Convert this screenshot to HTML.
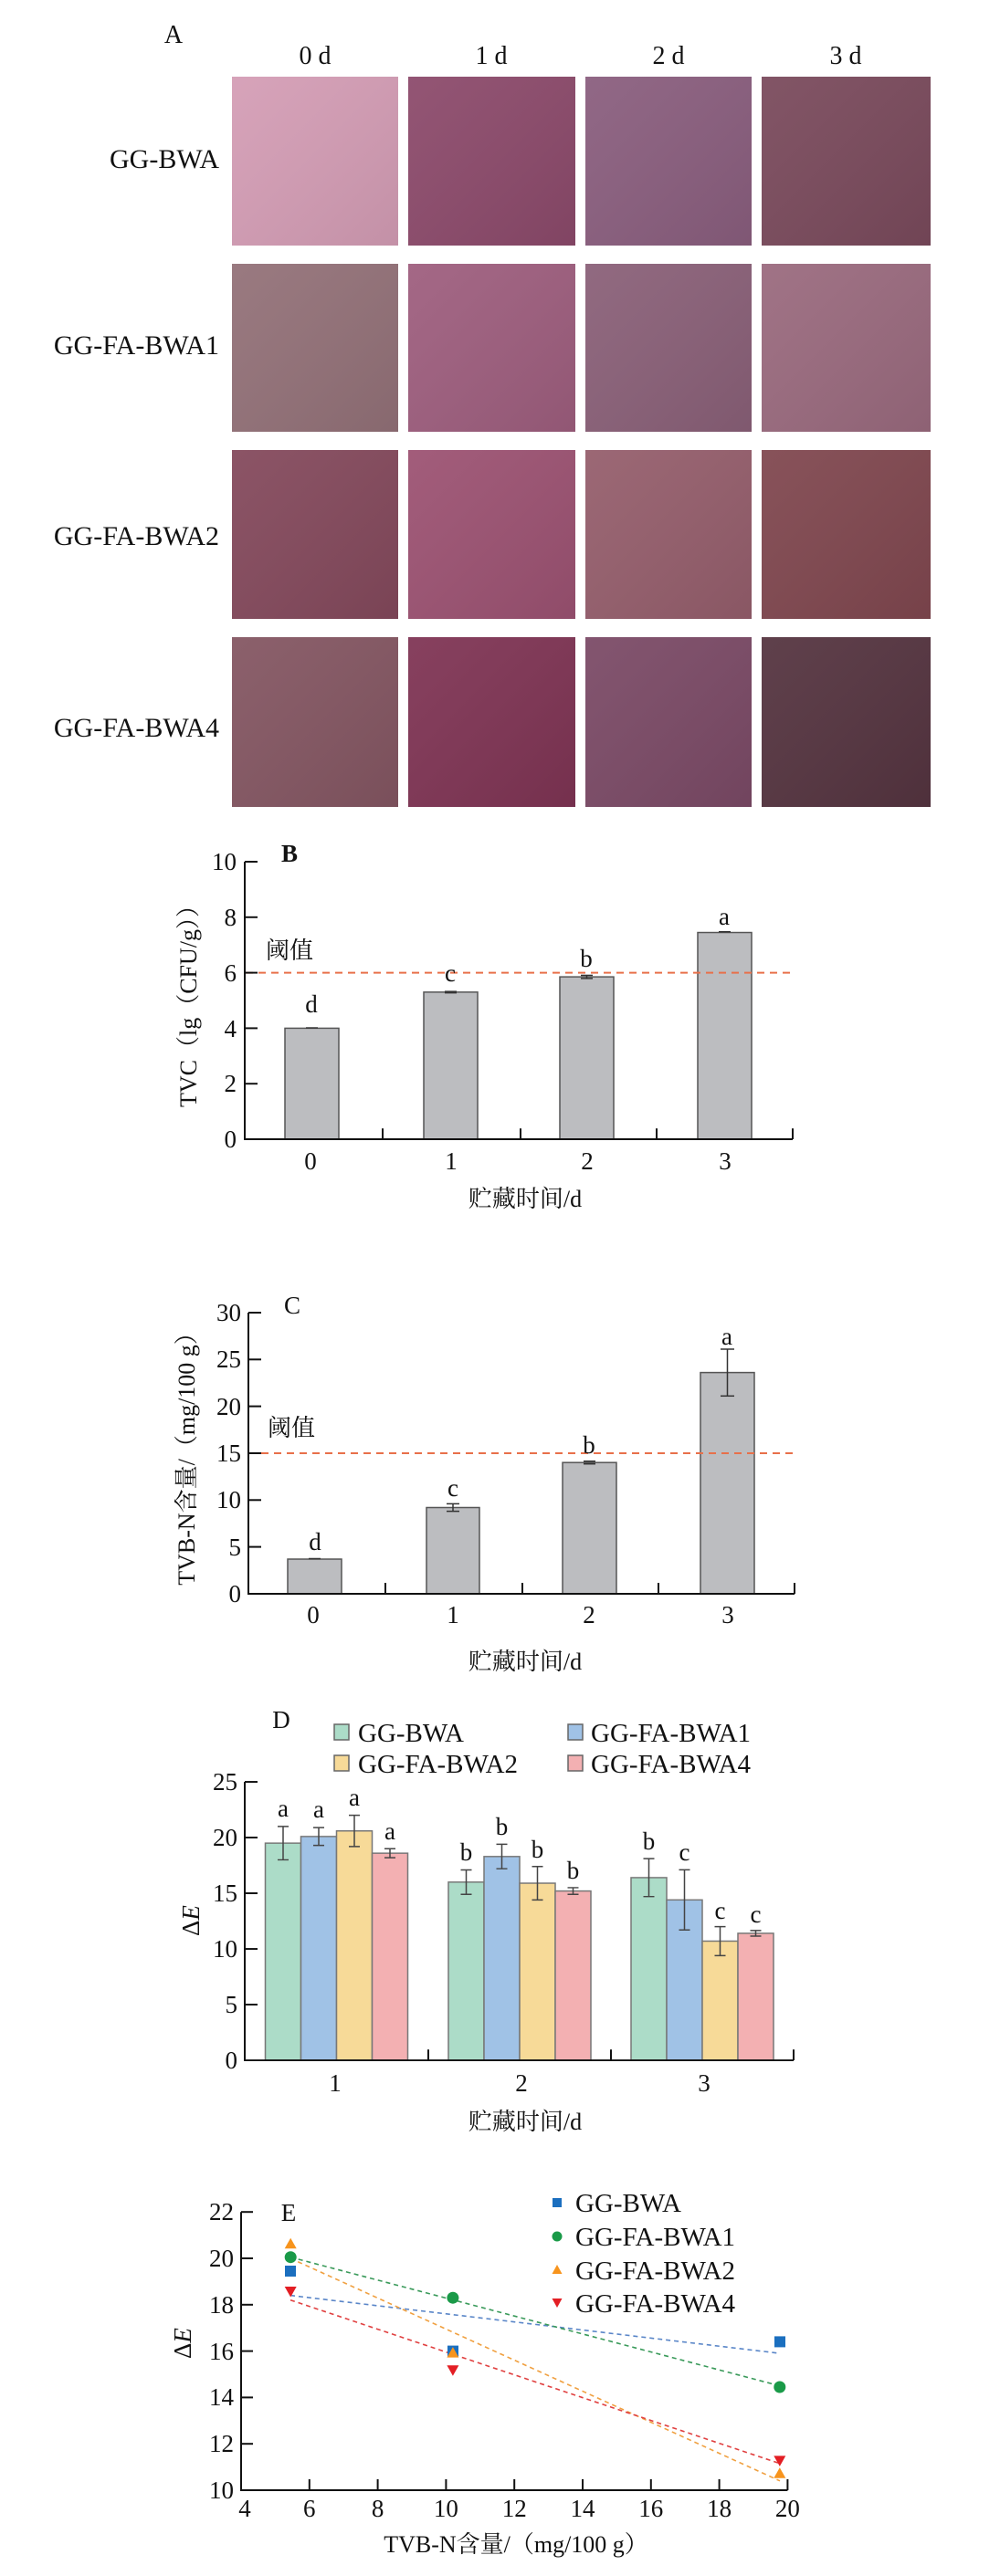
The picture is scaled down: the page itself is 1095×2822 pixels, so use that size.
<!DOCTYPE html>
<html><head><meta charset="utf-8"><style>
html,body{margin:0;padding:0;background:#fff;}
svg{display:block;}
text{font-family:"Liberation Serif","Noto Serif CJK SC",serif;fill:#111;}
</style></head><body>
<svg width="1095" height="2822" viewBox="0 0 1095 2822" xmlns="http://www.w3.org/2000/svg">
<defs>
<linearGradient id="sh" x1="0" y1="0" x2="1" y2="1"><stop offset="0" stop-color="#fff" stop-opacity="0.06"/><stop offset="1" stop-color="#000" stop-opacity="0.08"/></linearGradient>
</defs>
<!-- Panel A -->
<text x="190" y="47" font-size="28" text-anchor="middle">A</text>
<g font-size="28" text-anchor="middle">
<text x="345" y="70">0 d</text><text x="538" y="70">1 d</text><text x="732" y="70">2 d</text><text x="926" y="70">3 d</text>
</g>
<g font-size="30" text-anchor="end">
<text x="240" y="184">GG-BWA</text>
<text x="240" y="388">GG-FA-BWA1</text>
<text x="240" y="597">GG-FA-BWA2</text>
<text x="240" y="807">GG-FA-BWA4</text>
</g>
<g>
<rect x="254" y="84" width="182" height="185" fill="#d49db5"/>
<rect x="447" y="84" width="183" height="185" fill="#8c4a6b"/>
<rect x="641" y="84" width="182" height="185" fill="#8a5e7e"/>
<rect x="834" y="84" width="185" height="185" fill="#7a4a5c"/>
<rect x="254" y="289" width="182" height="184" fill="#937178"/>
<rect x="447" y="289" width="183" height="184" fill="#9e5e7e"/>
<rect x="641" y="289" width="182" height="184" fill="#8a6078"/>
<rect x="834" y="289" width="185" height="184" fill="#9a6a7e"/>
<rect x="254" y="493" width="182" height="185" fill="#84495c"/>
<rect x="447" y="493" width="183" height="185" fill="#9c5272"/>
<rect x="641" y="493" width="182" height="185" fill="#955e6c"/>
<rect x="834" y="493" width="185" height="185" fill="#80474f"/>
<rect x="254" y="698" width="182" height="186" fill="#845662"/>
<rect x="447" y="698" width="183" height="186" fill="#7f3454"/>
<rect x="641" y="698" width="182" height="186" fill="#7b4a66"/>
<rect x="834" y="698" width="185" height="186" fill="#553440"/>
</g>
<g fill="url(#sh)">
<rect x="254" y="84" width="182" height="185"/><rect x="447" y="84" width="183" height="185"/><rect x="641" y="84" width="182" height="185"/><rect x="834" y="84" width="185" height="185"/>
<rect x="254" y="289" width="182" height="184"/><rect x="447" y="289" width="183" height="184"/><rect x="641" y="289" width="182" height="184"/><rect x="834" y="289" width="185" height="184"/>
<rect x="254" y="493" width="182" height="185"/><rect x="447" y="493" width="183" height="185"/><rect x="641" y="493" width="182" height="185"/><rect x="834" y="493" width="185" height="185"/>
<rect x="254" y="698" width="182" height="186"/><rect x="447" y="698" width="183" height="186"/><rect x="641" y="698" width="182" height="186"/><rect x="834" y="698" width="185" height="186"/>
</g>

<!-- Panel B -->
<g transform="matrix(1,0,0,0.9838,0,15.3)">
<g fill="#bcbdc0" stroke="#555" stroke-width="1.5">
<rect x="312" y="1129.4" width="59" height="123.6"/>
<rect x="464" y="1089.2" width="59" height="163.8"/>
<rect x="613" y="1072.2" width="59" height="180.8"/>
<rect x="764" y="1022.8" width="59" height="230.2"/>
</g>
<g stroke="#333" stroke-width="1.5">
<line x1="335" y1="1129" x2="348" y2="1129"/>
<line x1="487" y1="1088.5" x2="500" y2="1088.5"/><line x1="487" y1="1090" x2="500" y2="1090"/>
<line x1="636" y1="1070.5" x2="649" y2="1070.5"/><line x1="636" y1="1074" x2="649" y2="1074"/><line x1="642.5" y1="1070.5" x2="642.5" y2="1074"/>
<line x1="787" y1="1022" x2="800" y2="1022"/>
</g>
<line x1="269" y1="1067.6" x2="868" y2="1067.6" stroke="#e8704a" stroke-width="2" stroke-dasharray="8,6"/>
<g stroke="#111" stroke-width="2" fill="none">
<polyline points="268,944 268,1253 868,1253"/>
<line x1="268" y1="944" x2="282" y2="944"/><line x1="268" y1="1005.8" x2="282" y2="1005.8"/><line x1="268" y1="1067.6" x2="282" y2="1067.6"/><line x1="268" y1="1129.4" x2="282" y2="1129.4"/><line x1="268" y1="1191.2" x2="282" y2="1191.2"/>
<line x1="419" y1="1253" x2="419" y2="1241"/><line x1="570" y1="1253" x2="570" y2="1241"/><line x1="719" y1="1253" x2="719" y2="1241"/><line x1="868" y1="1253" x2="868" y2="1241"/>
</g>
</g>
<g font-size="27" text-anchor="end">
<text x="259" y="953">10</text><text x="259" y="1014">8</text><text x="259" y="1075">6</text><text x="259" y="1136">4</text><text x="259" y="1196">2</text><text x="259" y="1257">0</text>
</g>
<g font-size="27" text-anchor="middle">
<text x="340" y="1281">0</text><text x="494" y="1281">1</text><text x="643" y="1281">2</text><text x="794" y="1281">3</text>
<text x="341" y="1109">d</text><text x="493" y="1075">c</text><text x="642" y="1059">b</text><text x="793" y="1013">a</text>
</g>
<text x="317" y="944" font-size="27" font-weight="bold" text-anchor="middle">B</text>
<text x="291" y="1050" font-size="26">阈值</text>
<text x="575" y="1322" font-size="26" text-anchor="middle">贮藏时间/d</text>
<text transform="translate(215,1096) rotate(-90)" font-size="26" text-anchor="middle">TVC（lg（CFU/g））</text>

<!-- Panel C -->
<g fill="#bcbdc0" stroke="#555" stroke-width="1.5">
<rect x="315" y="1708" width="59" height="38"/>
<rect x="467" y="1651.5" width="58" height="94.5"/>
<rect x="616" y="1602.2" width="59" height="143.8"/>
<rect x="767" y="1503.6" width="59" height="242.4"/>
</g>
<g stroke="#333" stroke-width="1.5">
<line x1="338" y1="1707.5" x2="351" y2="1707.5"/>
<line x1="496" y1="1647.4" x2="496" y2="1655.6"/><line x1="489" y1="1647.4" x2="503" y2="1647.4"/><line x1="489" y1="1655.6" x2="503" y2="1655.6"/>
<line x1="639" y1="1600.7" x2="652" y2="1600.7"/><line x1="639" y1="1603.7" x2="652" y2="1603.7"/>
<line x1="796.5" y1="1478" x2="796.5" y2="1529.3"/><line x1="789" y1="1478" x2="804" y2="1478"/><line x1="789" y1="1529.3" x2="804" y2="1529.3"/>
</g>
<line x1="272" y1="1592" x2="870" y2="1592" stroke="#e8704a" stroke-width="2" stroke-dasharray="8,6"/>
<g stroke="#111" stroke-width="2" fill="none">
<polyline points="272,1438 272,1746 870,1746"/>
<line x1="272" y1="1438" x2="286" y2="1438"/><line x1="272" y1="1489.3" x2="286" y2="1489.3"/><line x1="272" y1="1540.6" x2="286" y2="1540.6"/><line x1="272" y1="1592" x2="286" y2="1592"/><line x1="272" y1="1643.3" x2="286" y2="1643.3"/><line x1="272" y1="1694.6" x2="286" y2="1694.6"/>
<line x1="422" y1="1746" x2="422" y2="1734"/><line x1="572" y1="1746" x2="572" y2="1734"/><line x1="721" y1="1746" x2="721" y2="1734"/><line x1="870" y1="1746" x2="870" y2="1734"/>
</g>
<g font-size="27" text-anchor="end">
<text x="264" y="1447">30</text><text x="264" y="1498">25</text><text x="264" y="1550">20</text><text x="264" y="1601">15</text><text x="264" y="1652">10</text><text x="264" y="1704">5</text><text x="264" y="1755">0</text>
</g>
<g font-size="27" text-anchor="middle">
<text x="343" y="1778">0</text><text x="496" y="1778">1</text><text x="645" y="1778">2</text><text x="797" y="1778">3</text>
<text x="345" y="1698">d</text><text x="496" y="1639">c</text><text x="645" y="1592">b</text><text x="796" y="1473">a</text>
</g>
<text x="320" y="1439" font-size="27" text-anchor="middle">C</text>
<text x="293" y="1573" font-size="26">阈值</text>
<text x="575" y="1829" font-size="26" text-anchor="middle">贮藏时间/d</text>
<text transform="translate(213,1592) rotate(-90)" font-size="26" text-anchor="middle">TVB-N含量/（mg/100 g）</text>

<!-- Panel D -->
<text x="308" y="1893" font-size="27" text-anchor="middle">D</text>
<g stroke="#666" stroke-width="1.5">
<rect x="366" y="1889" width="16" height="17" fill="#acdcc8"/>
<rect x="622" y="1889" width="16" height="17" fill="#a0c2e6"/>
<rect x="366" y="1923" width="16" height="17" fill="#f7da98"/>
<rect x="622" y="1923" width="16" height="17" fill="#f3b0b2"/>
</g>
<g font-size="29">
<text x="392" y="1908">GG-BWA</text><text x="647" y="1908">GG-FA-BWA1</text>
<text x="392" y="1942">GG-FA-BWA2</text><text x="647" y="1942">GG-FA-BWA4</text>
</g>
<g transform="matrix(1,0,0,0.9839,0,29.5)">
<g stroke="#777" stroke-width="1.5">
<rect x="290.5" y="2022.2" width="39" height="241.8" fill="#acdcc8"/>
<rect x="329.5" y="2014.8" width="39" height="249.2" fill="#a0c2e6"/>
<rect x="368.5" y="2008.6" width="39" height="255.4" fill="#f7da98"/>
<rect x="407.5" y="2033.4" width="39" height="230.6" fill="#f3b0b2"/>
<rect x="491" y="2065.6" width="39" height="198.4" fill="#acdcc8"/>
<rect x="530" y="2037.1" width="39" height="226.9" fill="#a0c2e6"/>
<rect x="569" y="2066.8" width="39" height="197.2" fill="#f7da98"/>
<rect x="608" y="2075.5" width="39" height="188.5" fill="#f3b0b2"/>
<rect x="691" y="2060.6" width="39" height="203.4" fill="#acdcc8"/>
<rect x="730" y="2085.4" width="39" height="178.6" fill="#a0c2e6"/>
<rect x="769" y="2131.3" width="39" height="132.7" fill="#f7da98"/>
<rect x="808" y="2122.6" width="39" height="141.4" fill="#f3b0b2"/>
</g>
<g stroke="#444" stroke-width="1.5">
<path d="M310,2003.6V2040.8M304,2003.6h12M304,2040.8h12"/>
<path d="M349,2004.9V2024.7M343,2004.9h12M343,2024.7h12"/>
<path d="M388,1991.2V2026M382,1991.2h12M382,2026h12"/>
<path d="M427,2028.4V2038.4M421,2028.4h12M421,2038.4h12"/>
<path d="M510.5,2052V2079.2M504.5,2052h12M504.5,2079.2h12"/>
<path d="M549.5,2023.5V2050.7M543.5,2023.5h12M543.5,2050.7h12"/>
<path d="M588.5,2048.2V2085.4M582.5,2048.2h12M582.5,2085.4h12"/>
<path d="M627.5,2071.8V2079.2M621.5,2071.8h12M621.5,2079.2h12"/>
<path d="M710.5,2039.5V2081.7M704.5,2039.5h12M704.5,2081.7h12"/>
<path d="M749.5,2051.9V2118.9M743.5,2051.9h12M743.5,2118.9h12"/>
<path d="M788.5,2115.2V2147.4M782.5,2115.2h12M782.5,2147.4h12"/>
<path d="M827.5,2119.5V2125.7M821.5,2119.5h12M821.5,2125.7h12"/>
</g>
<g stroke="#111" stroke-width="2" fill="none">
<polyline points="268,1954 268,2264 869,2264"/>
<line x1="268" y1="1954" x2="282" y2="1954"/><line x1="268" y1="2016" x2="282" y2="2016"/><line x1="268" y1="2078" x2="282" y2="2078"/><line x1="268" y1="2140" x2="282" y2="2140"/><line x1="268" y1="2202" x2="282" y2="2202"/>
<line x1="469" y1="2264" x2="469" y2="2252"/><line x1="669" y1="2264" x2="669" y2="2252"/><line x1="869" y1="2264" x2="869" y2="2252"/>
</g>
</g>
<g font-size="27" text-anchor="middle">
<text x="310" y="1990">a</text><text x="349" y="1991">a</text><text x="388" y="1978">a</text><text x="427" y="2015">a</text>
<text x="510.5" y="2038">b</text><text x="549.5" y="2010">b</text><text x="588.5" y="2035">b</text><text x="627.5" y="2058">b</text>
<text x="710.5" y="2026">b</text><text x="749.5" y="2038">c</text><text x="788.5" y="2102">c</text><text x="827.5" y="2106">c</text>
</g>
<g font-size="27" text-anchor="end">
<text x="260" y="1961">25</text><text x="260" y="2022">20</text><text x="260" y="2083">15</text><text x="260" y="2144">10</text><text x="260" y="2205">5</text><text x="260" y="2266">0</text>
</g>
<g font-size="27" text-anchor="middle">
<text x="367" y="2291">1</text><text x="571" y="2291">2</text><text x="771" y="2291">3</text>
</g>
<text x="575" y="2333" font-size="26" text-anchor="middle">贮藏时间/d</text>
<text transform="translate(218,2104) rotate(-90)" font-size="27" text-anchor="middle">Δ<tspan font-style="italic">E</tspan></text>

<!-- Panel E -->
<text x="316" y="2433" font-size="27" text-anchor="middle">E</text>
<g stroke-width="1.6" stroke-dasharray="5,4" fill="none">
<line x1="318" y1="2514.6" x2="854" y2="2578.1" stroke="#5a86c8"/>
<line x1="318" y1="2472.7" x2="854" y2="2613.7" stroke="#3a9a5a"/>
<line x1="318" y1="2474" x2="854" y2="2717.8" stroke="#f0a040"/>
<line x1="318" y1="2519.7" x2="854" y2="2698.8" stroke="#e04040"/>
</g>
<g>
<rect x="312" y="2482" width="12" height="12" fill="#1b6fbf"/>
<rect x="490" y="2569.6" width="12" height="12" fill="#1b6fbf"/>
<rect x="848" y="2559.4" width="12" height="12" fill="#1b6fbf"/>
<circle cx="318.2" cy="2472.7" r="6.5" fill="#1a9a48"/>
<circle cx="495.9" cy="2517.2" r="6.5" fill="#1a9a48"/>
<circle cx="853.8" cy="2615" r="6.5" fill="#1a9a48"/>
<polygon points="318.2,2451.8 324.7,2463.3 311.7,2463.3" fill="#f7941d"/>
<polygon points="495.9,2571.1 502.4,2582.6 489.4,2582.6" fill="#f7941d"/>
<polygon points="853.8,2703.2 860.3,2714.7 847.3,2714.7" fill="#f7941d"/>
<polygon points="311.7,2505 324.7,2505 318.2,2516.5" fill="#e31e24"/>
<polygon points="489.4,2591.3 502.4,2591.3 495.9,2602.8" fill="#e31e24"/>
<polygon points="847.3,2690.4 860.3,2690.4 853.8,2701.9" fill="#e31e24"/>
</g>
<g>
<rect x="605" y="2408" width="10" height="10" fill="#1b6fbf"/>
<circle cx="610" cy="2450" r="5.5" fill="#1a9a48"/>
<polygon points="610,2481 615.5,2491 604.5,2491" fill="#f7941d"/>
<polygon points="604.5,2518 615.5,2518 610,2528" fill="#e31e24"/>
</g>
<g font-size="29">
<text x="630" y="2423">GG-BWA</text><text x="630" y="2460">GG-FA-BWA1</text><text x="630" y="2497">GG-FA-BWA2</text><text x="630" y="2533">GG-FA-BWA4</text>
</g>
<g stroke="#111" stroke-width="2" fill="none">
<polyline points="264,2423.2 264,2728 862.4,2728"/>
<line x1="264" y1="2423.2" x2="277" y2="2423.2"/><line x1="264" y1="2474" x2="277" y2="2474"/><line x1="264" y1="2524.8" x2="277" y2="2524.8"/><line x1="264" y1="2575.6" x2="277" y2="2575.6"/><line x1="264" y1="2626.4" x2="277" y2="2626.4"/><line x1="264" y1="2677.2" x2="277" y2="2677.2"/>
<line x1="338.8" y1="2728" x2="338.8" y2="2716"/><line x1="413.6" y1="2728" x2="413.6" y2="2716"/><line x1="488.4" y1="2728" x2="488.4" y2="2716"/><line x1="563.2" y1="2728" x2="563.2" y2="2716"/><line x1="638" y1="2728" x2="638" y2="2716"/><line x1="712.8" y1="2728" x2="712.8" y2="2716"/><line x1="787.6" y1="2728" x2="787.6" y2="2716"/><line x1="862.4" y1="2728" x2="862.4" y2="2716"/>
</g>
<g font-size="27" text-anchor="end">
<text x="256" y="2432">22</text><text x="256" y="2483">20</text><text x="256" y="2534">18</text><text x="256" y="2585">16</text><text x="256" y="2635">14</text><text x="256" y="2686">12</text><text x="256" y="2737">10</text>
</g>
<g font-size="27" text-anchor="middle">
<text x="268" y="2757">4</text><text x="338.8" y="2757">6</text><text x="413.6" y="2757">8</text><text x="488.4" y="2757">10</text><text x="563.2" y="2757">12</text><text x="638" y="2757">14</text><text x="712.8" y="2757">16</text><text x="787.6" y="2757">18</text><text x="862.4" y="2757">20</text>
</g>
<text x="565" y="2796" font-size="26" text-anchor="middle">TVB-N含量/（mg/100 g）</text>
<text transform="translate(209,2567) rotate(-90)" font-size="27" text-anchor="middle">Δ<tspan font-style="italic">E</tspan></text>
</svg>
</body></html>
